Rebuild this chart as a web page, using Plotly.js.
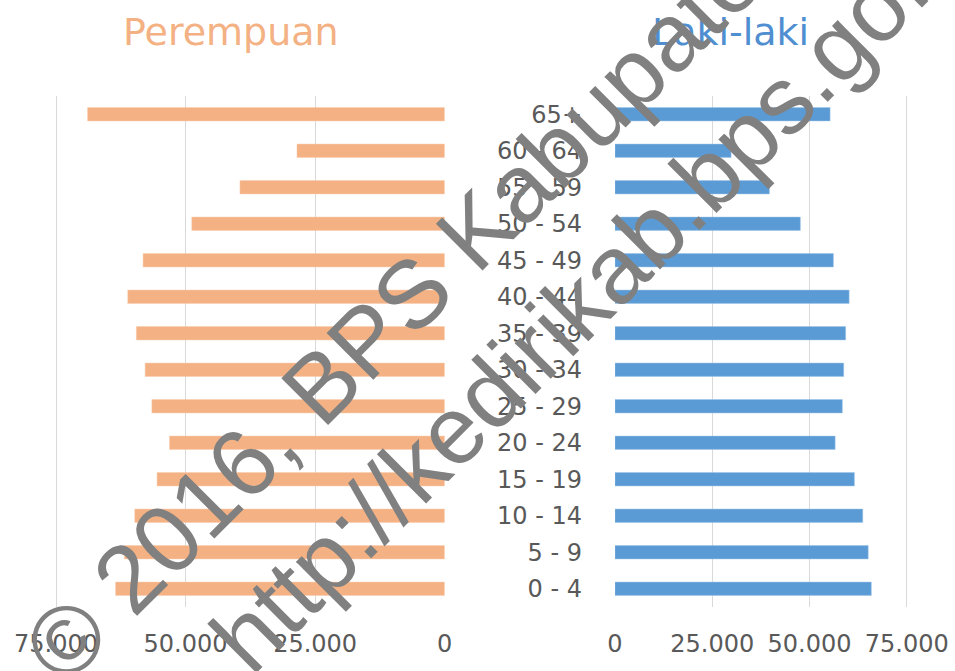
<!DOCTYPE html>
<html>
<head>
<meta charset="utf-8">
<script src="https://cdn.plot.ly/plotly-3.0.1.min.js"></script>
<style>
html,body{margin:0;padding:0;background:#fff;}
#chart{width:955px;height:671px;}
</style>
</head>
<body>
<div id="chart"></div>
<script>
const ageGroups = ["0 - 4","5 - 9","10 - 14","15 - 19","20 - 24","25 - 29","30 - 34","35 - 39","40 - 44","45 - 49","50 - 54","55 - 59","60 - 64","65+"];
const perempuan = [63500, 61800, 59800, 55500, 53100, 56500, 57800, 59500, 61150, 58200, 48800, 39500, 28500, 68900];
const lakiLaki  = [65900, 65100, 63700, 61550, 56600, 58450, 58800, 59300, 60200, 56150, 47650, 39700, 29850, 55300];
const tickVals = [0, 25000, 50000, 75000];
const titleLeft = "Perempuan";
const titleRight = "Laki-laki";
const watermark = "© 2016, BPS Kabupaten Kediri<br>http://kedirikab.bps.go.id";

const W = 955, H = 671;
const plotTop = 96, plotBottom = 607;
const fontFam = "DejaVu Sans, Noto Sans, sans-serif";
const gray = "#595959";

const traces = [
  {type:"bar", orientation:"h", y: ageGroups, x: perempuan, xaxis:"x", yaxis:"y",
   marker:{color:"#F4B183", line:{color:"#F8CBAD", width:0.5}}, hoverinfo:"x+y", name:titleLeft},
  {type:"bar", orientation:"h", y: ageGroups, x: lakiLaki, xaxis:"x2", yaxis:"y2",
   marker:{color:"#5B9BD5", line:{color:"#9DC3E6", width:0.5}}, hoverinfo:"x+y", name:titleRight}
];

const axisCommon = {
  tickvals: tickVals, tickformat: ",d", showgrid: true, gridcolor: "#D9D9D9", gridwidth: 1,
  zeroline: false, showline: false, ticks: "", fixedrange: true,
  tickfont: {family: fontFam, size: 24, color: gray}, ticklabelstandoff: 20
};

// left panel: 0 at x=444.7px, 75.000 at x=56px ; right panel: 0 at 615px, 75.000 at 906.7px
const lPx0 = 444.7, lPx75 = 56, rPx0 = 615, rPx75 = 906.7, pad = 2;
const lRangeMax = 75000 * (lPx0 - (lPx75 - pad)) / (lPx0 - lPx75);
const rRangeMax = 75000 * ((rPx75 + pad) - rPx0) / (rPx75 - rPx0);

const ph = plotBottom - plotTop;
const layout = {
  width: W, height: H,
  margin: {l: 0, r: 0, t: plotTop, b: H - plotBottom, pad: 0},
  paper_bgcolor: "#fff", plot_bgcolor: "#fff",
  separators: ",.",
  showlegend: false,
  bargap: 0.635,
  xaxis: Object.assign({}, axisCommon, {domain: [(lPx75 - pad)/W, lPx0/W], range: [lRangeMax, 0], anchor: "y"}),
  xaxis2: Object.assign({}, axisCommon, {domain: [rPx0/W, (rPx75 + pad)/W], range: [0, rRangeMax], anchor: "y2"}),
  yaxis: {anchor: "x", type: "category", showticklabels: false, showgrid: false, zeroline: false, showline: false, ticks: "", fixedrange: true},
  yaxis2: {anchor: "x2", type: "category", showticklabels: true, showgrid: false, zeroline: false, showline: false, ticks: "",
           ticklabelstandoff: 32, fixedrange: true,
           tickfont: {family: fontFam, size: 24, color: gray}},
  annotations: [
    {text: titleLeft, xref: "paper", yref: "paper", x: 231/W, y: (plotBottom - 32)/ph,
     showarrow: false, xanchor: "center", yanchor: "middle",
     font: {family: fontFam, size: 38, color: "#F4B183"}},
    {text: titleRight, xref: "paper", yref: "paper", x: 730/W, y: (plotBottom - 32)/ph,
     showarrow: false, xanchor: "center", yanchor: "middle",
     font: {family: fontFam, size: 38, color: "#4F8ED0"}},
    {text: watermark, xref: "paper", yref: "paper", x: 552/W, y: (plotBottom - 242)/ph,
     showarrow: false, xanchor: "center", yanchor: "middle", align: "center", textangle: -45,
     font: {family: "Liberation Sans, Arial, sans-serif", size: 96, color: "#808080"}}
  ]
};

Plotly.newPlot("chart", traces, layout, {displayModeBar: false, staticPlot: true});
</script>
</body>
</html>
